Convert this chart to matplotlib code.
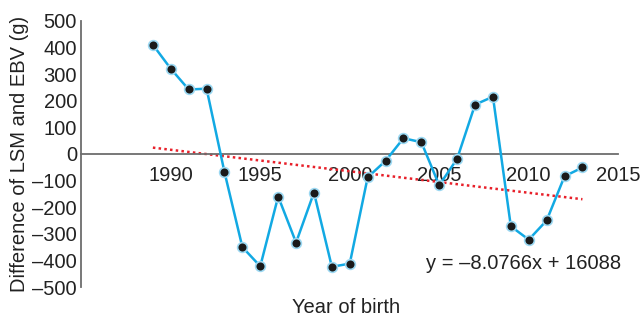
import matplotlib.pyplot as plt
import numpy as np

plt.rcParams['font.family'] = ['Liberation Sans', 'DejaVu Sans']

# birth years and LSM - EBV difference (g)
years = np.arange(1989, 2014)
diff = [410, 320, 242, 245, -68, -350, -422, -160, -333, -145, -424, -412,
        -88, -26, 59, 44, -118, -18, 185, 215, -272, -322, -250, -84, -51]

# linear trend from the printed equation
slope = -8.0766
intercept = 16088

xticks = [1990, 1995, 2000, 2005, 2010, 2015]
yticks = [-500, -400, -300, -200, -100, 0, 100, 200, 300, 400, 500]

fs = 14.5
fig = plt.figure(figsize=(6.4, 3.2), dpi=100)
ax = fig.add_axes([0.127, 0.103, 0.839, 0.832])

ax.plot(years, diff, color='#12a9e3', lw=1.8, marker='o', ms=7,
        mfc='#1a1a1a', mec='#9bd8f2', mew=1.2, zorder=3)

trend = slope * years + intercept
ax.plot(years, trend, color='#e8202a', lw=1.8, ls=(0, (1, 1.3)), zorder=2)

ax.set_xlim(1985, 2015)
ax.set_ylim(-500, 500)

ax.spines['top'].set_visible(False)
ax.spines['right'].set_visible(False)
ax.spines['bottom'].set_position(('data', 0))
ax.spines['bottom'].set_color('#6d6d6d')
ax.spines['left'].set_color('#6d6d6d')
ax.spines['bottom'].set_linewidth(1.3)
ax.spines['left'].set_linewidth(1.3)

ax.set_xticks(xticks)
ax.set_xticklabels([str(t) for t in xticks])
ax.set_yticks(yticks)
ax.set_yticklabels([str(t).replace('-', '\u2013') for t in yticks])
ax.tick_params(axis='x', length=0, pad=9, labelsize=fs, colors='#222222')
ax.tick_params(axis='y', length=0, pad=3, labelsize=fs, colors='#222222')

ax.text(0.823, 0.09, 'y = \u20138.0766x + 16088', transform=ax.transAxes,
        ha='center', va='center', fontsize=fs, color='#222222')

fig.text(0.54, 0.04, 'Year of birth', ha='center', va='center',
         fontsize=fs, color='#222222')
fig.text(0.03, 0.52, 'Difference of LSM and EBV (g)', ha='center',
         va='center', rotation=90, fontsize=fs, color='#222222')

fig.savefig('out.png', dpi=100)
